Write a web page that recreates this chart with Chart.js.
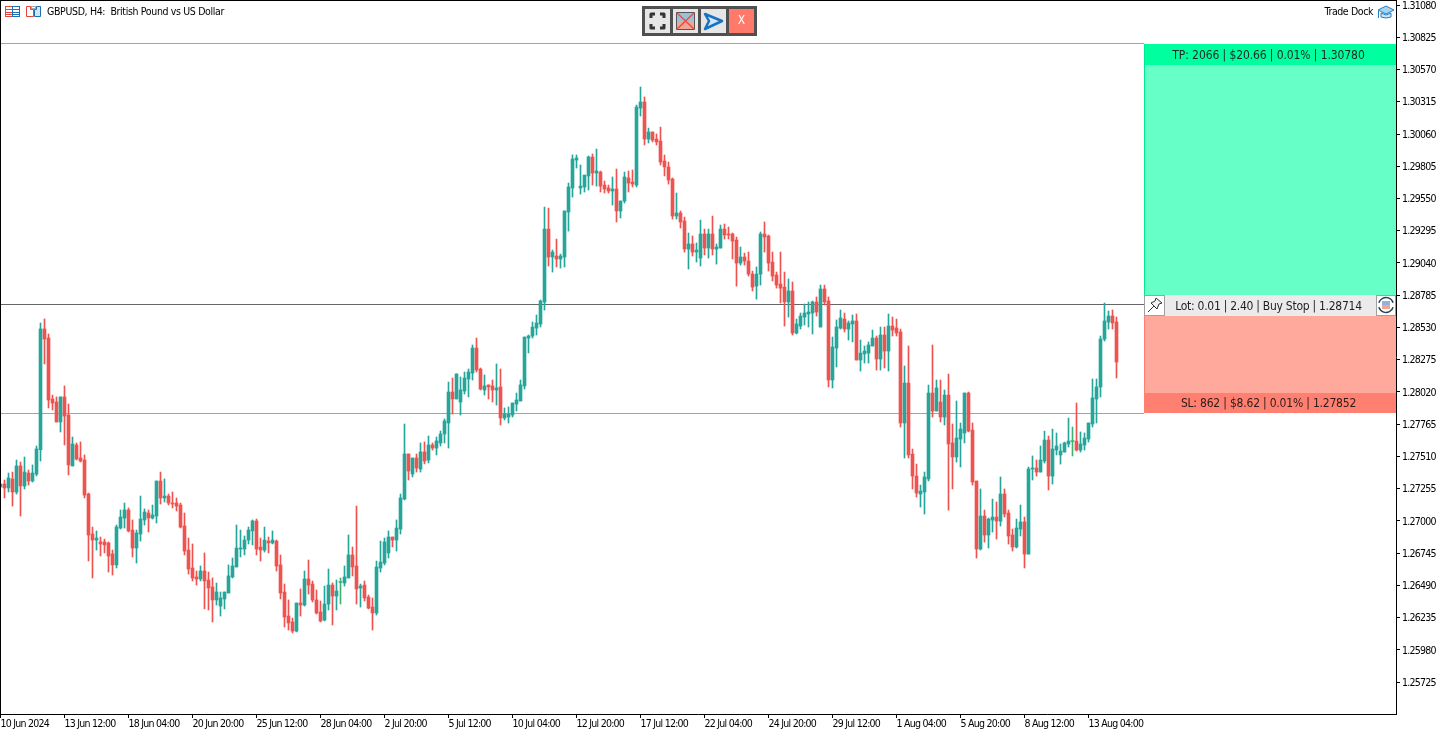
<!DOCTYPE html>
<html>
<head>
<meta charset="utf-8">
<title>GBPUSD, H4</title>
<script src="https://cdn.jsdelivr.net/npm/chart.js@4"></script>
<style>
    html, body { margin: 0; padding: 0; background: #fff; overflow: hidden; }
    canvas { display: block; }
</style>
</head>
<body>
<canvas id="myChart" width="1451" height="735"></canvas>
<script>
// candles, one value per H4 bar
const opens = [
    1.27268,1.27291,1.27260,1.27331,1.27228,1.27434,1.27276,1.27378,1.27315,1.27370,
    1.27563,1.28518,1.28446,1.27964,1.27940,1.27782,1.27980,1.27837,1.27434,1.27600,
    1.27497,1.27481,1.27212,1.26896,1.26848,1.26833,1.26833,1.26825,1.26738,1.26651,
    1.26943,1.27022,1.27086,1.26927,1.26785,1.26896,1.27007,1.27062,1.27022,1.27038,
    1.27315,1.27181,1.27196,1.27141,1.27141,1.27125,1.26959,1.26769,1.26627,1.26556,
    1.26540,1.26603,1.26532,1.26477,1.26374,1.26326,1.26382,1.26429,1.26556,1.26635,
    1.26777,1.26777,1.26848,1.26920,1.26999,1.26793,1.26769,1.26840,1.26825,1.26840,
    1.26651,1.26437,1.26247,1.26200,1.26128,1.26350,1.26334,1.26540,1.26500,1.26374,
    1.26279,1.26215,1.26342,1.26492,1.26405,1.26512,1.26508,1.26548,1.26730,1.26643,
    1.26469,1.26492,1.26397,1.26318,1.26271,1.26627,1.26666,1.26746,1.26872,1.26848,
    1.26935,1.27173,1.27529,1.27370,1.27497,1.27410,1.27545,1.27481,1.27600,1.27576,
    1.27616,1.27687,1.27774,1.28019,1.27964,1.27940,1.28027,1.28122,1.28169,1.28367,
    1.28201,1.28035,1.28075,1.28067,1.28035,1.28059,1.27814,1.27821,1.27837,1.27924,
    1.27948,1.28067,1.28446,1.28462,1.28525,1.28557,1.28731,1.29308,1.29087,1.29095,
    1.29071,1.29087,1.29443,1.29633,1.29854,1.29633,1.29641,1.29728,1.29878,1.29751,
    1.29759,1.29656,1.29633,1.29609,1.29625,1.29451,1.29530,1.29712,1.29680,1.29656,
    1.30265,1.30313,1.30020,1.30076,1.30020,1.30004,1.29846,1.29799,1.29704,1.29411,
    1.29435,1.29372,1.29150,1.29190,1.29126,1.29079,1.29269,1.29158,1.29269,1.29150,
    1.29158,1.29308,1.29269,1.29269,1.29221,1.29039,1.29087,1.29055,1.28952,1.28857,
    1.28952,1.29269,1.29253,1.29047,1.28944,1.28873,1.28849,1.28731,1.28818,1.28486,
    1.28541,1.28612,1.28636,1.28644,1.28731,1.28533,1.28834,1.28739,1.28114,1.28367,
    1.28525,1.28596,1.28517,1.28557,1.28581,1.28272,1.28320,1.28327,1.28383,1.28446,
    1.28280,1.28470,1.28343,1.28541,1.28525,1.28494,1.27774,1.28090,1.27528,1.27354,
    1.27212,1.27228,1.27331,1.28011,1.27869,1.27940,1.27821,1.27995,1.27616,1.27505,
    1.27647,1.27695,1.28011,1.27718,1.27315,1.26777,1.27038,1.26888,1.27006,1.27030,
    1.26998,1.27212,1.27062,1.26888,1.26793,1.26935,1.26991,1.26737,1.27410,1.27418,
    1.27386,1.27473,1.27639,1.27354,1.27560,1.27521,1.27544,1.27608,1.27627,1.27631,
    1.27560,1.27600,1.27647,1.27766,1.27964,1.28059,1.28438,1.28573,1.28620,1.28573
];
const highs = [
    1.27291,1.27323,1.27378,1.27386,1.27481,1.27465,1.27505,1.27402,1.27442,1.27592,
    1.28565,1.28597,1.28478,1.27995,1.27980,1.27980,1.28067,1.27924,1.27663,1.27616,
    1.27624,1.27521,1.27220,1.26951,1.26920,1.26872,1.26856,1.26833,1.26769,1.26967,
    1.27086,1.27141,1.27102,1.27007,1.26927,1.27196,1.27094,1.27086,1.27125,1.27315,
    1.27386,1.27331,1.27212,1.27228,1.27181,1.27141,1.27062,1.26864,1.26817,1.26603,
    1.26643,1.26746,1.26595,1.26548,1.26508,1.26437,1.26437,1.26651,1.26706,1.26967,
    1.26927,1.26880,1.26951,1.27007,1.27014,1.26864,1.26951,1.26872,1.26920,1.26848,
    1.26730,1.26500,1.26374,1.26231,1.26350,1.26461,1.26603,1.26690,1.26524,1.26453,
    1.26366,1.26484,1.26619,1.26508,1.26532,1.26548,1.26643,1.26888,1.26793,1.27117,
    1.26500,1.26524,1.26413,1.26390,1.26682,1.26840,1.26864,1.26920,1.26872,1.27007,
    1.27212,1.27766,1.27529,1.27497,1.27529,1.27616,1.27624,1.27671,1.27616,1.27663,
    1.27711,1.27806,1.28098,1.28130,1.28162,1.28138,1.28177,1.28201,1.28391,1.28446,
    1.28209,1.28154,1.28075,1.28114,1.28241,1.28201,1.27893,1.27901,1.27932,1.28011,
    1.28114,1.28454,1.28470,1.28573,1.28628,1.28747,1.29482,1.29474,1.29142,1.29229,
    1.29110,1.29451,1.29672,1.29894,1.29894,1.29815,1.29735,1.29886,1.29902,1.29941,
    1.29767,1.29688,1.29656,1.29720,1.29783,1.29530,1.29759,1.29767,1.29775,1.30289,
    1.30432,1.30353,1.30107,1.30076,1.30060,1.30115,1.29894,1.29838,1.29712,1.29593,
    1.29451,1.29403,1.29277,1.29253,1.29198,1.29379,1.29308,1.29308,1.29411,1.29190,
    1.29340,1.29348,1.29324,1.29277,1.29245,1.29166,1.29118,1.29126,1.28976,1.29008,
    1.29285,1.29364,1.29261,1.29126,1.28968,1.29126,1.28968,1.28913,1.28889,1.28596,
    1.28644,1.28715,1.28731,1.28739,1.28771,1.28865,1.28865,1.28771,1.28454,1.28589,
    1.28668,1.28644,1.28581,1.28628,1.28636,1.28430,1.28383,1.28415,1.28509,1.28462,
    1.28533,1.28533,1.28636,1.28612,1.28596,1.28517,1.28225,1.28383,1.27568,1.27449,
    1.27283,1.27386,1.28074,1.28391,1.28114,1.28114,1.28035,1.28161,1.27766,1.27948,
    1.27774,1.28011,1.28019,1.27774,1.27315,1.27252,1.27085,1.27022,1.27172,1.27149,
    1.27347,1.27252,1.27085,1.26935,1.27014,1.27125,1.27030,1.27426,1.27513,1.27481,
    1.27592,1.27710,1.27671,1.27726,1.27695,1.27608,1.27623,1.27813,1.27742,1.27932,
    1.27703,1.27695,1.27774,1.28122,1.28122,1.28462,1.28723,1.28660,1.28668,1.28612
];
const lows = [
    1.27268,1.27181,1.27228,1.27117,1.27212,1.27038,1.27252,1.27283,1.27307,1.27355,
    1.27473,1.28241,1.27893,1.27877,1.27782,1.27703,1.27600,1.27363,1.27434,1.27481,
    1.27465,1.27181,1.26682,1.26548,1.26769,1.26722,1.26746,1.26595,1.26571,1.26627,
    1.26935,1.26943,1.26912,1.26714,1.26666,1.26840,1.26967,1.26912,1.27014,1.26983,
    1.27133,1.27149,1.27125,1.27102,1.27078,1.26943,1.26730,1.26579,1.26524,1.26492,
    1.26524,1.26303,1.26295,1.26200,1.26334,1.26247,1.26303,1.26429,1.26548,1.26635,
    1.26714,1.26730,1.26817,1.26809,1.26730,1.26682,1.26753,1.26746,1.26817,1.26603,
    1.26382,1.26160,1.26136,1.26113,1.26121,1.26247,1.26326,1.26421,1.26358,1.26263,
    1.26200,1.26208,1.26295,1.26176,1.26295,1.26342,1.26484,1.26548,1.26564,1.26342,
    1.26318,1.26366,1.26303,1.26136,1.26255,1.26595,1.26651,1.26706,1.26793,1.26761,
    1.26896,1.27165,1.27323,1.27347,1.27386,1.27386,1.27450,1.27458,1.27560,1.27521,
    1.27592,1.27616,1.27576,1.27845,1.27964,1.27837,1.28003,1.27980,1.28114,1.28177,
    1.28035,1.27995,1.27964,1.27940,1.27916,1.27758,1.27798,1.27774,1.27821,1.27869,
    1.27948,1.28043,1.28328,1.28446,1.28470,1.28533,1.28667,1.29016,1.28968,1.29008,
    1.29000,1.29008,1.29292,1.29561,1.29791,1.29585,1.29601,1.29617,1.29656,1.29648,
    1.29601,1.29593,1.29593,1.29498,1.29364,1.29395,1.29514,1.29601,1.29641,1.29641,
    1.30202,1.29973,1.29989,1.29997,1.29973,1.29815,1.29728,1.29664,1.29387,1.29387,
    1.29316,1.29126,1.28992,1.29095,1.29047,1.29016,1.29103,1.29079,1.29103,1.29031,
    1.29158,1.29229,1.29229,1.29071,1.28857,1.29023,1.29023,1.28936,1.28818,1.28754,
    1.28865,1.29126,1.28976,1.28897,1.28841,1.28723,1.28541,1.28612,1.28470,1.28478,
    1.28517,1.28549,1.28533,1.28478,1.28620,1.28533,1.28707,1.28059,1.28051,1.28217,
    1.28517,1.28494,1.28430,1.28415,1.28272,1.28185,1.28248,1.28248,1.28383,1.28193,
    1.28193,1.28209,1.28185,1.28462,1.28462,1.27742,1.27497,1.27497,1.27252,1.27188,
    1.27109,1.27054,1.27315,1.27821,1.27869,1.27782,1.27758,1.27085,1.27252,1.27465,
    1.27426,1.27616,1.27703,1.27283,1.26706,1.26769,1.26832,1.26785,1.26911,1.26856,
    1.26959,1.27030,1.26816,1.26761,1.26785,1.26880,1.26627,1.26737,1.27323,1.27354,
    1.27386,1.27457,1.27244,1.27291,1.27521,1.27449,1.27544,1.27584,1.27513,1.27552,
    1.27544,1.27560,1.27623,1.27742,1.27774,1.27979,1.28422,1.28517,1.28517,1.28130
];
const closes = [
    1.27291,1.27260,1.27339,1.27228,1.27434,1.27276,1.27386,1.27315,1.27378,1.27568,
    1.28518,1.28438,1.27956,1.27932,1.27782,1.27980,1.27829,1.27442,1.27608,1.27489,
    1.27473,1.27204,1.26888,1.26848,1.26864,1.26817,1.26809,1.26722,1.26651,1.26951,
    1.27030,1.27086,1.26920,1.26785,1.26904,1.27014,1.27070,1.27022,1.27046,1.27315,
    1.27181,1.27196,1.27141,1.27133,1.27117,1.26951,1.26761,1.26619,1.26548,1.26540,
    1.26603,1.26524,1.26469,1.26374,1.26437,1.26390,1.26437,1.26564,1.26643,1.26785,
    1.26785,1.26848,1.26927,1.26999,1.26777,1.26769,1.26848,1.26825,1.26848,1.26643,
    1.26429,1.26239,1.26192,1.26128,1.26350,1.26334,1.26540,1.26492,1.26374,1.26271,
    1.26208,1.26342,1.26492,1.26405,1.26445,1.26512,1.26556,1.26730,1.26635,1.26461,
    1.26484,1.26390,1.26310,1.26271,1.26635,1.26674,1.26833,1.26872,1.26848,1.26943,
    1.27181,1.27529,1.27394,1.27497,1.27418,1.27545,1.27473,1.27600,1.27576,1.27632,
    1.27687,1.27790,1.28019,1.27964,1.28162,1.28035,1.28130,1.28177,1.28367,1.28193,
    1.28043,1.28067,1.28059,1.28035,1.28051,1.27814,1.27845,1.27845,1.27932,1.27956,
    1.28075,1.28454,1.28462,1.28533,1.28565,1.28739,1.29308,1.29087,1.29126,1.29071,
    1.29095,1.29451,1.29641,1.29862,1.29870,1.29648,1.29735,1.29878,1.29751,1.29767,
    1.29648,1.29625,1.29609,1.29625,1.29451,1.29530,1.29720,1.29672,1.29664,1.30273,
    1.30313,1.30020,1.30076,1.30012,1.29997,1.29838,1.29799,1.29696,1.29411,1.29435,
    1.29364,1.29150,1.29190,1.29126,1.29142,1.29269,1.29158,1.29269,1.29150,1.29166,
    1.29308,1.29261,1.29261,1.29213,1.29039,1.29087,1.29055,1.28952,1.28849,1.28952,
    1.29269,1.29245,1.29039,1.28936,1.28865,1.28841,1.28731,1.28818,1.28486,1.28557,
    1.28620,1.28644,1.28652,1.28731,1.28652,1.28834,1.28731,1.28114,1.28375,1.28533,
    1.28604,1.28517,1.28565,1.28581,1.28272,1.28327,1.28343,1.28391,1.28446,1.28280,
    1.28470,1.28343,1.28541,1.28509,1.28486,1.27774,1.28090,1.27521,1.27354,1.27220,
    1.27236,1.27347,1.28011,1.27869,1.28051,1.27821,1.27995,1.27608,1.27505,1.27655,
    1.27726,1.28011,1.27710,1.27307,1.26777,1.27038,1.26888,1.27014,1.27030,1.26998,
    1.27212,1.27054,1.26880,1.26793,1.26943,1.26991,1.26737,1.27410,1.27418,1.27386,
    1.27481,1.27639,1.27354,1.27568,1.27592,1.27552,1.27616,1.27631,1.27627,1.27560,
    1.27608,1.27655,1.27774,1.27972,1.28059,1.28438,1.28581,1.28620,1.28565,1.28256
];

// axis labels
const x_tick_labels = ['10 Jun 2024','13 Jun 12:00','18 Jun 04:00','20 Jun 20:00','25 Jun 12:00','28 Jun 04:00',
    '2 Jul 20:00','5 Jul 12:00','10 Jul 04:00','12 Jul 20:00','17 Jul 12:00','22 Jul 04:00','24 Jul 20:00',
    '29 Jul 12:00','1 Aug 04:00','5 Aug 20:00','8 Aug 12:00','13 Aug 04:00'];
const y_tick_values = [1.31080,1.30825,1.30570,1.30315,1.30060,1.29805,1.29550,1.29295,1.29040,1.28785,1.28530,
    1.28275,1.28020,1.27765,1.27510,1.27255,1.27000,1.26745,1.26490,1.26235,1.25980,1.25725];

// trade levels
const tp_price = 1.30780;
const entry_price = 1.28714;
const sl_price = 1.27852;
const tp_text = 'TP: 2066 | $20.66 | 0.01% | 1.30780';
const lot_text = 'Lot: 0.01 | 2.40 | Buy Stop | 1.28714';
const sl_text = 'SL: 862 | $8.62 | 0.01% | 1.27852';
const title_text = 'GBPUSD, H4:  British Pound vs US Dollar';
const dock_text = 'Trade Dock';

const UP = '#26a69a', DOWN = '#ef5350', DOJI = '#3cb371';
const FONT = "'DejaVu Sans Condensed', 'DejaVu Sans', sans-serif";
const BARS_PER_TICK = 16;

function candle_color(i) {
    if (closes[i] === opens[i]) return DOJI;
    return closes[i] > opens[i] ? UP : DOWN;
}

const wick_data = highs.map((h, i) => ({x: i, y: [lows[i], h]}));
const body_data = opens.map((o, i) => ({x: i, y: [o, closes[i]]}));
const bar_colors = opens.map((o, i) => candle_color(i));

function text(ctx, str, x, y, align, color, size, spacing) {
    ctx.font = size + 'px ' + FONT;
    ctx.letterSpacing = (spacing || 0) + 'px';
    ctx.textAlign = align;
    ctx.textBaseline = 'middle';
    ctx.fillStyle = color;
    ctx.fillText(str, x, y);
}

function box(ctx, x, y, w, h, fill, stroke) {
    ctx.fillStyle = fill;
    ctx.fillRect(x, y, w, h);
    if (stroke) {
        ctx.strokeStyle = stroke;
        ctx.lineWidth = 1;
        ctx.strokeRect(x + .5, y + .5, w - 1, h - 1);
    }
}

function poly(ctx, pts, fill, stroke, lw) {
    ctx.beginPath();
    pts.forEach((p, i) => i ? ctx.lineTo(p[0], p[1]) : ctx.moveTo(p[0], p[1]));
    ctx.closePath();
    if (fill) { ctx.fillStyle = fill; ctx.fill(); }
    if (stroke) { ctx.strokeStyle = stroke; ctx.lineWidth = lw || 1; ctx.stroke(); }
}

function draw_header_icons(ctx) {
    // quick-bar icons left of the title
    ctx.lineWidth = 1;
    ctx.strokeStyle = '#e8423a';
    ctx.strokeRect(5.5, 6.5, 7, 10);
    ctx.beginPath();
    [9, 12, 14].forEach(y => { ctx.moveTo(6, y + .5); ctx.lineTo(12, y + .5); });
    ctx.stroke();
    ctx.strokeStyle = '#1f6fb5';
    ctx.strokeRect(12.5, 6.5, 7, 10);
    ctx.beginPath();
    [9, 12, 14].forEach(y => { ctx.moveTo(13, y + .5); ctx.lineTo(19, y + .5); });
    ctx.stroke();

    poly(ctx, [[26.5,6.5],[30.5,6.5],[30.5,9.5],[33.5,9.5],[33.5,16.5],[26.5,16.5]], '#fff', '#e8423a');
    poly(ctx, [[36.5,6.5],[40.5,6.5],[40.5,16.5],[34.5,16.5],[34.5,9.5],[36.5,9.5]], '#cfe6f7', '#1f6fb5');
    box(ctx, 31, 6, 5, 3, '#fff', '#aaa');

    // graduation cap next to the dock name
    poly(ctx, [[1378,10],[1386,6],[1394,10],[1386,14]], '#a9d3ef', '#1f7fc4');
    poly(ctx, [[1381,13],[1381,17],[1386,18],[1391,17],[1391,13],[1386,15]], '#cfe6f7', '#1f7fc4');
    ctx.fillStyle = '#1f7fc4';
    ctx.fillRect(1378, 11, 1, 7);
}

function draw_toolbar(ctx) {
    box(ctx, 642, 6, 115, 30, '#505050');
    box(ctx, 645, 9, 25, 24, '#e6e6e6');
    box(ctx, 673, 9, 25, 24, '#e6e6e6');
    box(ctx, 701, 9, 25, 24, '#e6e6e6');
    box(ctx, 729, 9, 25, 24, '#ff7a6b');

    // fullscreen corners
    ctx.strokeStyle = '#333';
    ctx.lineWidth = 3;
    ctx.lineJoin = 'round';
    ctx.beginPath();
    [[651,14,1,1],[664,14,-1,1],[651,28,1,-1],[664,28,-1,-1]].forEach(c => {
        ctx.moveTo(c[0], c[1] + 4 * c[3]);
        ctx.lineTo(c[0], c[1]);
        ctx.lineTo(c[0] + 4 * c[2], c[1]);
    });
    ctx.stroke();

    // hide levels
    box(ctx, 677, 13, 17, 8, '#9cc0dc');
    box(ctx, 677, 21, 17, 8, '#f0a596');
    ctx.strokeStyle = '#555';
    ctx.lineWidth = 1;
    ctx.strokeRect(676.5, 12.5, 18, 17);
    ctx.strokeStyle = '#e8503f';
    ctx.lineWidth = 1.5;
    ctx.beginPath();
    ctx.moveTo(677, 13); ctx.lineTo(694, 29);
    ctx.moveTo(694, 13); ctx.lineTo(677, 29);
    ctx.stroke();

    // send order
    poly(ctx, [[705,14],[722,21],[705,29],[709,21]], '#d5e6f3', '#1673c4', 2.5);

    text(ctx, 'X', 741.5, 21, 'center', '#fff', 12);
}

function draw_dock(ctx, area, y) {
    const left = 1144, right = Math.round(area.right), w = right - left;
    const tp_y = Math.round(y.getPixelForValue(tp_price));
    const entry_y = Math.round(y.getPixelForValue(entry_price));
    const sl_y = Math.round(y.getPixelForValue(sl_price));

    box(ctx, left, tp_y + 1, w, entry_y - tp_y - 10, '#66ffc8');
    box(ctx, left, tp_y + 1, w, 21, '#00ff9f');
    box(ctx, left, entry_y + 12, w, sl_y - entry_y - 12, '#ffa99c');
    box(ctx, left, sl_y - 20, w, 20, '#ff8070');
    box(ctx, left, entry_y - 9, w, 21, '#ebebeb');
    box(ctx, left, tp_y + 1, 1, entry_y - tp_y - 10, '#00e890');
    box(ctx, left, entry_y + 12, 1, sl_y - entry_y - 12, '#ff8070');

    // pin and refresh buttons
    box(ctx, left, entry_y - 9, 21, 21, '#fff', '#a0a0a0');
    box(ctx, right - 20, entry_y - 9, 20, 21, '#fff', '#a0a0a0');
    ctx.strokeStyle = '#333';
    ctx.lineWidth = 1;
    ctx.beginPath();
    ctx.moveTo(left + 4, entry_y + 8);
    ctx.lineTo(left + 10, entry_y + 2);
    ctx.stroke();
    poly(ctx, [[left+12,entry_y-6],[left+18,entry_y-1],[left+15,entry_y],[left+13,entry_y+5],
        [left+7,entry_y-1],[left+11,entry_y-3]], '#f2f2f2', '#333');
    box(ctx, right - 14, entry_y - 3, 8, 4, '#8fb4dc');
    box(ctx, right - 14, entry_y + 1, 8, 4, '#f2a596');
    ctx.strokeStyle = '#2c3e50';
    ctx.lineWidth = 1.5;
    ctx.beginPath();
    ctx.arc(right - 10, entry_y + 1, 7.5, Math.PI * 1.1, Math.PI * 1.9);
    ctx.stroke();
    ctx.beginPath();
    ctx.arc(right - 10, entry_y + 1, 7.5, Math.PI * .1, Math.PI * .9);
    ctx.stroke();

    text(ctx, tp_text, 1268.5, tp_y + 13, 'center', '#1c2a26', 12, -.1);
    text(ctx, lot_text, 1268.5, entry_y + 3, 'center', '#1f1f1f', 12, -.27);
    text(ctx, sl_text, 1268.5, sl_y - 9, 'center', '#2a1c1a', 12, -.2);
}

// level lines go under the candles, dock and header over them
const overlay_plugin = {
    id: 'tradeOverlay',
    beforeDraw(chart) {
        // axis labels are narrower than the condensed font
        chart.ctx.letterSpacing = '-0.75px';
        // price labels sit a pixel lower than chart.js middles them
        const y = chart.scales.y, draw_labels = y.drawLabels;
        y.drawLabels = function(area) {
            chart.ctx.save();
            chart.ctx.translate(0, 1);
            draw_labels.call(y, area);
            chart.ctx.restore();
        };
    },
    beforeDatasetsDraw(chart) {
        const {ctx, chartArea: area, scales: {y}} = chart;
        const line = (price, color) => {
            const py = Math.round(y.getPixelForValue(price)) + .5;
            ctx.strokeStyle = color;
            ctx.lineWidth = 1;
            ctx.beginPath();
            ctx.moveTo(area.left, py);
            ctx.lineTo(1144, py);
            ctx.stroke();
        };
        line(tp_price, '#2ee39a');
        line(entry_price, '#666666');
        line(sl_price, '#ff8070');
    },
    afterDatasetsDraw(chart) {
        const {ctx, chartArea: area, scales: {y}} = chart;
        ctx.save();
        draw_dock(ctx, area, y);
        // frame on the two sides the axes leave open
        ctx.fillStyle = '#000';
        ctx.fillRect(0, 0, area.right, 1);
        ctx.fillRect(0, 0, 1, area.bottom);
        draw_header_icons(ctx);
        draw_toolbar(ctx);
        text(ctx, title_text, 47, 12, 'left', '#000', 10.5, -.35);
        text(ctx, dock_text, 1373, 12, 'right', '#000', 10.5, -.4);
        ctx.restore();
    }
};

const config = {
    data: {
        datasets: [{
            type: 'bar',
            label: 'Wicks',
            data: wick_data,
            backgroundColor: bar_colors,
            barThickness: 1,
            grouped: false,
            order: 2
        }, {
            type: 'bar',
            label: 'Bodies',
            data: body_data,
            backgroundColor: bar_colors,
            barThickness: 3,
            minBarLength: 1,
            grouped: false,
            order: 1
        }]
    },
    options: {
        responsive: false,
        animation: false,
        devicePixelRatio: 1,
        layout: {padding: 0},
        events: [],
        plugins: {
            legend: {display: false},
            tooltip: {enabled: false}
        },
        scales: {
            x: {
                type: 'linear',
                offset: false,
                min: -0.125,
                max: 348.875,
                afterFit: scale => {
                    scale.height = 21;
                    scale.paddingLeft = scale.paddingRight = 0;
                },
                afterBuildTicks: scale => {
                    scale.ticks = x_tick_labels.map((label, i) => ({value: i * BARS_PER_TICK}));
                },
                grid: {drawOnChartArea: false, offset: false, color: '#000', tickLength: 4},
                border: {color: '#000'},
                ticks: {
                    autoSkip: false,
                    maxRotation: 0,
                    align: 'start',
                    padding: 0,
                    color: '#000',
                    font: {family: FONT, size: 10.5},
                    callback: (value, index) => x_tick_labels[index]
                }
            },
            y: {
                type: 'linear',
                position: 'right',
                min: 1.25472,
                max: 1.31120,
                afterFit: scale => {
                    scale.width = 55;
                    scale.paddingTop = scale.paddingBottom = 0;
                },
                afterBuildTicks: scale => {
                    scale.ticks = y_tick_values.map(v => ({value: v}));
                },
                grid: {drawOnChartArea: false, color: '#000', tickLength: 4},
                border: {color: '#000'},
                ticks: {
                    padding: 2,
                    color: '#000',
                    font: {family: FONT, size: 10.5},
                    callback: value => value.toFixed(5)
                }
            }
        }
    },
    plugins: [overlay_plugin]
};

const myChart = new Chart(document.getElementById('myChart'), config);
</script>
</body>
</html>
